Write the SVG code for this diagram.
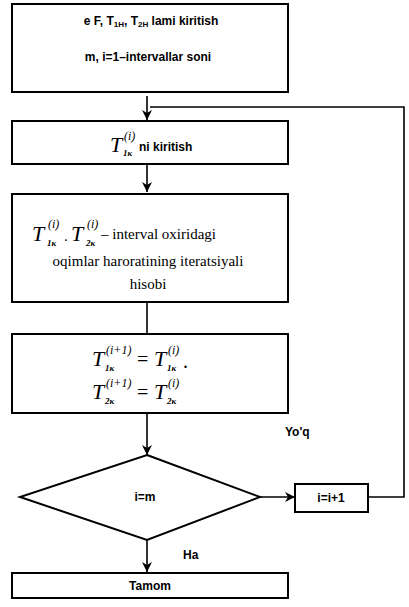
<svg xmlns="http://www.w3.org/2000/svg" width="409" height="607" viewBox="0 0 409 607">
<style>
.box{fill:#fff;stroke:#000;stroke-width:2}
.ln{fill:none;stroke:#000;stroke-width:1.6}
.s{font-family:"Liberation Sans",Arial,sans-serif;font-weight:bold;font-size:12px;fill:#000}
.r{font-family:"Liberation Serif","Times New Roman",serif;font-size:15px;fill:#000}
.T{font-family:"Liberation Serif","Times New Roman",serif;font-style:italic;font-size:22px;fill:#000}
.sup{font-family:"Liberation Serif","Times New Roman",serif;font-style:italic;font-size:12px;fill:#000}
.sub{font-family:"Liberation Serif","Times New Roman",serif;font-style:italic;font-weight:bold;font-size:9px;fill:#000}
.eq{font-family:"Liberation Serif","Times New Roman",serif;font-size:20px;fill:#000}
</style>
<defs>
<marker id="ah" viewBox="0 0 10 10" refX="10" refY="5" markerWidth="10" markerHeight="10" markerUnits="userSpaceOnUse" orient="auto">
<path d="M0,0 L10,5 L0,10 L3,5 Z" fill="#000"/>
</marker>
</defs>
<g id="connectors">
<path class="ln" d="M147,96 V120" marker-end="url(#ah)"/>
<path class="ln" d="M150,107 H404 V497 H368"/>
<path class="ln" d="M147,164 V192" marker-end="url(#ah)"/>
<path class="ln" d="M147,302 V333"/>
<path class="ln" d="M147,413 V455" marker-end="url(#ah)"/>
<path class="ln" d="M260,497 H295" marker-end="url(#ah)"/>
<path class="ln" d="M147,540 V572" marker-end="url(#ah)"/>
</g>
<g id="n1">
<rect class="box" x="12" y="4" width="276" height="88"/>
<text class="s" x="151" y="25" text-anchor="middle">e F, T<tspan font-size="8" dy="2">1H</tspan><tspan dy="-2">, T</tspan><tspan font-size="8" dy="2">2H</tspan><tspan dy="-2"> lami kiritish</tspan></text>
<text class="s" x="148" y="61" text-anchor="middle">m, i=1–intervallar  soni</text>
</g>
<g id="n2">
<rect class="box" x="12" y="121" width="276" height="43"/>
<text class="T" x="110" y="152">T</text>
<text class="sup" x="124" y="140">(i)</text>
<text class="sub" x="123" y="156">1κ</text>
<text class="s" x="139" y="151" font-size="13">ni kiritish</text>
</g>
<g id="n3">
<rect class="box" x="12" y="194" width="276" height="108"/>
<text class="T" x="32" y="241" font-size="24">T</text>
<text class="sup" x="48" y="228" font-size="13">(i)</text>
<text class="sub" x="47" y="246">1κ</text>
<text class="r" x="64" y="241">.</text>
<text class="T" x="71" y="241" font-size="24">T</text>
<text class="sup" x="87" y="228" font-size="13">(i)</text>
<text class="sub" x="86" y="246">2κ</text>
<text class="r" x="101" y="239" font-size="16">– interval oxiridagi</text>
<text class="r" x="148" y="266" text-anchor="middle">oqimlar haroratining iteratsiyali</text>
<text class="r" x="148" y="289" text-anchor="middle">hisobi</text>
</g>
<g id="n4">
<rect class="box" x="12" y="334" width="276" height="79"/>
<text class="T" x="92" y="366">T</text>
<text class="sup" x="106" y="354">(i+1)</text>
<text class="sub" x="105" y="371">1κ</text>
<text class="eq" x="137" y="366">=</text>
<text class="T" x="154" y="366">T</text>
<text class="sup" x="168" y="354">(i)</text>
<text class="sub" x="167" y="371">1κ</text>
<text class="eq" x="183" y="368">.</text>
<text class="T" x="92" y="399">T</text>
<text class="sup" x="106" y="387">(i+1)</text>
<text class="sub" x="105" y="404">2κ</text>
<text class="eq" x="137" y="399">=</text>
<text class="T" x="154" y="399">T</text>
<text class="sup" x="168" y="387">(i)</text>
<text class="sub" x="167" y="404">2κ</text>
</g>
<g id="n5">
<path class="box" d="M147,455 L260,497 L147,540 L20,497 Z"/>
<text class="s" x="145" y="501" text-anchor="middle">i=m</text>
</g>
<g id="n6">
<rect class="box" x="295" y="484" width="73" height="28"/>
<text class="s" x="331" y="502" text-anchor="middle">i=i+1</text>
</g>
<g id="n7">
<rect class="box" x="12" y="573" width="276" height="25"/>
<text class="s" x="150" y="590" text-anchor="middle">Tamom</text>
</g>
<g id="labels">
<text class="s" x="285" y="436">Yo'q</text>
<text class="s" x="183" y="559">Ha</text>
</g>
</svg>
